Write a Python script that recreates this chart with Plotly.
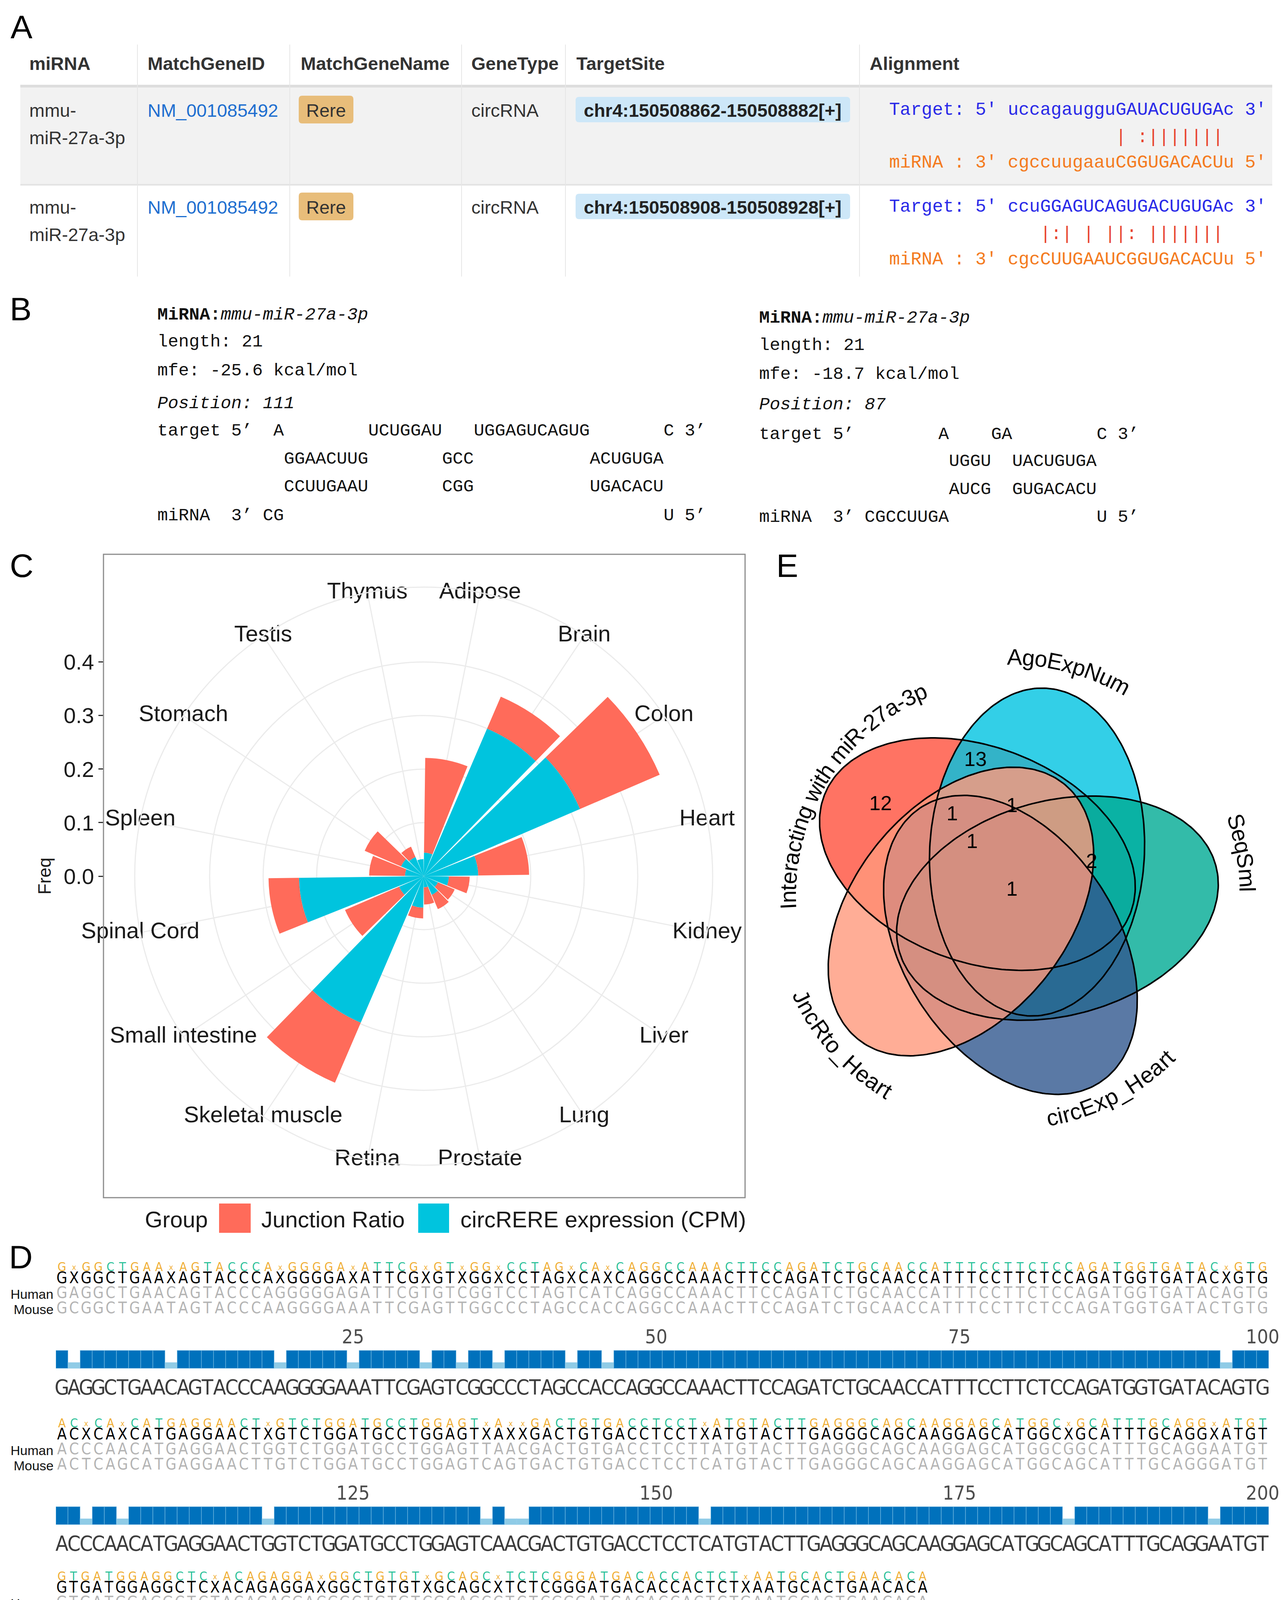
import numpy as np
import plotly.graph_objects as go

W, H = 3283, 4393
SANS = "Liberation Sans, Arial, sans-serif"
NARROW = "Liberation Sans Narrow, Arial Narrow, DejaVu Sans Condensed, Liberation Sans, sans-serif"
MONO = "Liberation Mono, Courier New, monospace"

# ---------------- A: miRNA / target table
headers = ["miRNA", "MatchGeneID", "MatchGeneName", "GeneType", "TargetSite", "Alignment"]
mirna = ["mmu-miR-27a-3p", "mmu-miR-27a-3p"]
gene_id = ["NM_001085492", "NM_001085492"]
gene_name = ["Rere", "Rere"]
gene_type = ["circRNA", "circRNA"]
target_site = ["chr4:150508862-150508882[+]", "chr4:150508908-150508928[+]"]
target_seq = ["uccagaugguGAUACUGUGAc", "ccuGGAGUCAGUGACUGUGAc"]
pair_marks = ["          | :|||||||", "   |:| | ||: |||||||"]
mirna_seq = ["cgccuugaauCGGUGACACUu", "cgcCUUGAAUCGGUGACACUu"]

# ---------------- B: RNAhybrid duplexes
hyb_mirna = ["mmu-miR-27a-3p", "mmu-miR-27a-3p"]
hyb_length = [21, 21]
hyb_mfe = [-25.6, -18.7]
hyb_position = [111, 87]
hyb_lines = [
    ["target 5’" + " " * 2 + "A" + " " * 8 + "UCUGGAU" + " " * 3 + "UGGAGUCAGUG" + " " * 7 + "C 3’",
     " " * 12 + "GGAACUUG" + " " * 7 + "GCC" + " " * 11 + "ACUGUGA",
     " " * 12 + "CCUUGAAU" + " " * 7 + "CGG" + " " * 11 + "UGACACU",
     "miRNA  3’ CG" + " " * 36 + "U 5’"],
    ["target 5’" + " " * 8 + "A" + " " * 4 + "GA" + " " * 8 + "C 3’",
     " " * 18 + "UGGU" + " " * 2 + "UACUGUGA",
     " " * 18 + "AUCG" + " " * 2 + "GUGACACU",
     "miRNA  3’ CGCCUUGA" + " " * 14 + "U 5’"],
]

# ---------------- C: tissue distribution
tissues = ["Adipose", "Brain", "Colon", "Heart", "Kidney", "Liver", "Lung", "Prostate",
           "Retina", "Skeletal muscle", "Small intestine", "Spinal Cord", "Spleen",
           "Stomach", "Testis", "Thymus"]
circ_cpm = [0.044, 0.300, 0.318, 0.102, 0.047, 0.029, 0.038, 0.021,
            0.059, 0.298, 0.050, 0.233, 0.035, 0.046, 0.039, 0.032]
junction_ratio = [0.177, 0.065, 0.162, 0.095, 0.039, 0.034, 0.029, 0.032,
                  0.020, 0.122, 0.110, 0.057, 0.067, 0.074, 0.021, 0.0]
freq_ticks = [0.0, 0.1, 0.2, 0.3, 0.4]
groups = ["Junction Ratio", "circRERE expression (CPM)"]

# ---------------- D: human / mouse alignment
d_human = [
    "GAGGCTGAACAGTACCCAGGGGGAGATTCGTGTCGGTCCTAGTCATCAGGCCAAACTTCCAGATCTGCAACCATTTCCTTCTCCAGATGGTGATACAGTG",
    "ACCCAACATGAGGAACTGGTCTGGATGCCTGGAGTTAACGACTGTGACCTCCTTATGTACTTGAGGGCAGCAAGGAGCATGGCGGCATTTGCAGGAATGT",
    "GTGATGGAGGCTCTACAGAGGACGGCTGTGTCGCAGCCTCTCGGGATGACACCACTCTGAATGCACTGAACACA",
]
d_mouse = [
    "GCGGCTGAATAGTACCCAAGGGGAAATTCGAGTTGGCCCTAGCCACCAGGCCAAACTTCCAGATCTGCAACCATTTCCTTCTCCAGATGGTGATACTGTG",
    "ACTCAGCATGAGGAACTTGTCTGGATGCCTGGAGTCAGTGACTGTGACCTCCTCATGTACTTGAGGGCAGCAAGGAGCATGGCAGCATTTGCAGGGATGT",
    "GTGATGGAGGCTCCACAGAGGATGGCTGTGTTGCAGCATCTCGGGATGACACCACTCTCAATGCACTGAACACA",
]
d_circ = [
    "GAGGCTGAACAGTACCCAAGGGGAAATTCGAGTCGGCCCTAGCCACCAGGCCAAACTTCCAGATCTGCAACCATTTCCTTCTCCAGATGGTGATACAGTG",
    "ACCCAACATGAGGAACTGGTCTGGATGCCTGGAGTCAACGACTGTGACCTCCTCATGTACTTGAGGGCAGCAAGGAGCATGGCAGCATTTGCAGGAATGT",
    "GTGATGGAGGCTCCACAGAGGACGGCTGTGTCGCAGCATCTCGGGATGACACCACTCTCAATGCACTGAACACA",
]
d_start = [1, 101, 201]
d_ticks = [[25, 50, 75, 100], [125, 150, 175, 200], [220, 240, 260]]

# ---------------- E: five-set Venn
venn_sets = ["Interacting with miR-27a-3p", "AgoExpNum", "SeqSml", "circExp_Heart", "JncRto_Heart"]
venn_colors = ["#FF503C", "#00C3E1", "#00AA94", "#31578F", "#FF997C"]
venn_counts = [12, 13, 1, 1, 1, 1, 2]

# ================= drawing helpers
shapes, anns = [], []


def nb(s):
    return s.replace(" ", "\u00a0")


def label(x, y, s, size, color="#333333", family=SANS, xa="left", ya="middle", angle=0):
    anns.append(dict(x=x, y=y, xref="x", yref="y", text=s, showarrow=False,
                     xanchor=xa, yanchor=ya, textangle=angle,
                     font=dict(family=family, size=size, color=color)))


def box(x0, y0, x1, y1, fill, line=None, lw=0, layer="below"):
    shapes.append(dict(type="rect", xref="x", yref="y", x0=x0, y0=y0, x1=x1, y1=y1,
                       fillcolor=fill, line=dict(color=line or fill, width=lw), layer=layer))


def rrect(x0, y0, x1, y1, r, fill):
    p = (f"M{x0+r},{y0} L{x1-r},{y0} Q{x1},{y0} {x1},{y0+r} L{x1},{y1-r} Q{x1},{y1} {x1-r},{y1} "
         f"L{x0+r},{y1} Q{x0},{y1} {x0},{y1-r} L{x0},{y0+r} Q{x0},{y0} {x0+r},{y0} Z")
    shapes.append(dict(type="path", xref="x", yref="y", path=p, fillcolor=fill,
                       line=dict(width=0), layer="below"))


# Arial advance widths (per 1000 em) for the curved Venn captions
ADV = {"I": 278, "n": 556, "t": 278, "e": 556, "r": 333, "a": 556, "c": 500, "i": 222,
       "g": 556, " ": 278, "w": 722, "h": 556, "m": 833, "R": 722, "-": 333, "2": 556,
       "7": 556, "3": 556, "p": 556, "A": 667, "o": 556, "E": 667, "x": 500, "N": 722,
       "u": 556, "S": 667, "q": 556, "l": 222, "H": 722, "_": 556, "J": 500}


def arc_text(s, cx, cy, rad, mid_deg, direction, size):
    widths = [ADV.get(ch, 556) * size / 1000 for ch in s]
    total = sum(widths)
    off = -total / 2
    for ch, w in zip(s, widths):
        a = mid_deg + direction * np.degrees((off + w / 2) / rad)
        off += w
        if ch == " ":
            continue
        ar = np.radians(a)
        ang = a + 90 if direction > 0 else a - 90
        ang = (ang + 180) % 360 - 180
        label(cx + rad * np.cos(ar), cy + rad * np.sin(ar), ch, size, "#000000",
              xa="center", angle=ang)


fig = go.Figure()

# ================= panel letters
for s, x, y in [("A", 47, 61), ("B", 45, 783), ("C", 47, 1440), ("D", 45, 3210), ("E", 2008, 1440)]:
    label(x, y, s, 84, "#000000", xa="center")

# ================= A
TBL_L, TBL_R = 44, 3250
HEAD_Y = 154
ROW_Y = [274, 522]
HEAD_X = [65, 368, 760, 1197, 1466, 2217]
ALIGN_X = 2267
box(TBL_L, 216, TBL_R, 463, "#F2F2F2")
box(TBL_L, 209, TBL_R, 216, "#DDDDDD")
box(TBL_L, 463, TBL_R, 467, "#E3E3E3")
for x in [344, 734, 1174, 1440, 2193]:
    shapes.append(dict(type="line", xref="x", yref="y", x0=x, x1=x, y0=106, y1=700,
                       line=dict(color="#E6E6E6", width=2), layer="below"))
for hx, h in zip(HEAD_X, headers):
    label(hx, HEAD_Y, f"<b>{h}</b>", 47, "#333333")
for i in range(len(mirna)):
    y = ROW_Y[i]
    head, tail = mirna[i].split("-", 1)
    label(65, y, head + "-", 47)
    label(65, y + 70, tail, 47)
    label(368, y, gene_id[i], 47, "#1F6FD0")
    rrect(757, y - 37, 897, y + 34, 9, "#E8BD7A")
    label(827, y, gene_name[i], 47, "#333333", xa="center")
    label(1197, y, gene_type[i], 47)
    rrect(1466, y - 34, 2169, y + 31, 9, "#CDE7F8")
    label(1817, y, f"<b>{target_site[i]}</b>", 47, "#222222", xa="center")
    label(ALIGN_X, y, nb("Target: 5' " + target_seq[i] + " 3'"), 46, "#2A2AE8", MONO)
    label(ALIGN_X, y + 70, nb(" " * 11 + pair_marks[i]), 46, "#E8432E", MONO)
    label(ALIGN_X, y + 135, nb("miRNA : 3' " + mirna_seq[i] + " 5'"), 46, "#F47B20", MONO)

# ================= B
B_X = [393, 1934]
B_Y = [[798, 867, 941, 1025, 1095, 1167, 1238, 1312],
       [806, 876, 950, 1028, 1104, 1173, 1245, 1316]]
for k in range(2):
    ys = B_Y[k]
    label(B_X[k], ys[0], f"<b>MiRNA:</b><i>{hyb_mirna[k]}</i>", 45, "#111111", MONO)
    label(B_X[k], ys[1], f"length: {hyb_length[k]}", 45, "#111111", MONO)
    label(B_X[k], ys[2], f"mfe: {hyb_mfe[k]} kcal/mol", 45, "#111111", MONO)
    label(B_X[k], ys[3], f"<i>Position: {hyb_position[k]}</i>", 45, "#111111", MONO)
    for j, line in enumerate(hyb_lines[k]):
        label(B_X[k], ys[4 + j], nb(line), 45, "#111111", MONO)

# ================= C: stacked polar bars
RED, CYAN = "#FF6B5A", "#00C4DE"
C_CX, C_CY, C_R, R_MAX = 1077, 2235, 740, 0.54
theta = [360 * (i + 0.5) / len(tissues) for i in range(len(tissues))]
fig.add_trace(go.Barpolar(r=circ_cpm, theta=theta, width=21, name=groups[1],
                          marker=dict(color=CYAN, line=dict(width=0)), subplot="polar"))
fig.add_trace(go.Barpolar(r=junction_ratio, theta=theta, width=21, name=groups[0],
                          marker=dict(color=RED, line=dict(width=0)), subplot="polar"))
fig.add_trace(go.Scatterpolar(r=[R_MAX] * len(tissues), theta=theta, mode="text", text=tissues,
                              textfont=dict(family=SANS, size=58, color="#1A1A1A"),
                              cliponaxis=False, subplot="polar"))
# radial scale shown as a left axis (like ggplot coord_polar)
fig.add_trace(go.Scatter(x=[0] * len(freq_ticks), y=freq_ticks, mode="markers",
                         marker=dict(opacity=0), xaxis="x2", yaxis="y2", hoverinfo="skip"))
box(257, 1411, 1900, 3058, "rgba(0,0,0,0)", "#8C8C8C", 3, layer="above")
label(106, C_CY, "Freq", 46, "#1A1A1A", xa="center", angle=-90)
# legend
label(361, 3113, "Group", 58, "#1A1A1A")
box(553, 3073, 634, 3148, RED)
label(659, 3113, groups[0], 58, "#1A1A1A")
box(1063, 3073, 1142, 3148, CYAN)
label(1169, 3113, groups[1], 58, "#1A1A1A")

# ================= E: Venn ellipses (five-fold arrangement)
V_CX, V_CY, V_D, V_PHI0, V_DELTA, V_A, V_B = 2575, 2281, 130, 232.0, -31.0, 420, 275
t = np.linspace(0, 2 * np.pi, 240)
outlines = []
for i, col in enumerate(venn_colors):
    phi = np.radians(V_PHI0 + 72 * i)
    cx, cy = V_CX + V_D * np.cos(phi), V_CY + V_D * np.sin(phi)
    th = phi + np.radians(V_DELTA)
    ex = cx + V_A * np.cos(t) * np.cos(th) - V_B * np.sin(t) * np.sin(th)
    ey = cy + V_A * np.cos(t) * np.sin(th) + V_B * np.sin(t) * np.cos(th)
    r, g, b = (int(col[j:j + 2], 16) for j in (1, 3, 5))
    fig.add_trace(go.Scatter(x=ex, y=ey, mode="lines", fill="toself", line=dict(width=0),
                             fillcolor=f"rgba({r},{g},{b},0.8)", xaxis="x", yaxis="y",
                             hoverinfo="skip"))
    outlines.append((ex, ey))
for ex, ey in outlines:
    fig.add_trace(go.Scatter(x=ex, y=ey, mode="lines", line=dict(color="#000000", width=4),
                             xaxis="x", yaxis="y", hoverinfo="skip"))
# captions follow arcs around the diagram: (radius, middle angle, reading direction)
venn_label_arc = [(565, 212, 1), (608, 285, 1), (612, 350, 1), (582, 62.5, -1), (592, 138, -1)]
for name, (rad, mid, dr) in zip(venn_sets, venn_label_arc):
    arc_text(name, V_CX, V_CY, rad, mid, dr, 58)
count_pos = [(2247, 2048), (2490, 1935), (2430, 2074), (2583, 2053),
             (2481, 2145), (2583, 2267), (2787, 2196)]
for n, (x, y) in zip(venn_counts, count_pos):
    label(x, y, str(n), 52, "#000000", xa="center")

# ================= D: alignment blocks
GOLD, TEAL = "#F0AE33", "#2DC29A"
DARK, LIGHT = "#0071BC", "#8FCBE6"
D_X0 = 135
D_PX = [31.06, 31.06, 30.2]
D_Y0 = [3200, 3600, 3992]
d_axes = {}
for k in range(3):
    hs, ms, cs = d_human[k], d_mouse[k], d_circ[k]
    n = len(hs)
    pos = list(range(d_start[k], d_start[k] + n))
    cons = [a if a == b else "X" for a, b in zip(hs, ms)]
    xa = f"x{k + 3}"
    y0 = D_Y0[k]
    d_axes[f"xaxis{k + 3}"] = dict(domain=[D_X0 / W, (D_X0 + n * D_PX[k]) / W],
                                   range=[d_start[k] - 0.5, d_start[k] + n - 0.5],
                                   anchor="y", visible=False)
    fig.add_trace(go.Scatter(
        x=pos, y=[y0 + 38] * n, mode="text", text=[c if c != "X" else "x" for c in cons],
        textfont=dict(family=NARROW, size=[32 if c != "X" else 20 for c in cons],
                      color=[GOLD if c in "AGX" else TEAL for c in cons]),
        xaxis=xa, yaxis="y", cliponaxis=False, hoverinfo="skip"))
    fig.add_trace(go.Scatter(x=pos, y=[y0 + 67] * n, mode="text", text=cons,
                             textfont=dict(family=NARROW, size=40, color="#000000"),
                             xaxis=xa, yaxis="y", cliponaxis=False, hoverinfo="skip"))
    for seq, dy in [(hs, 105), (ms, 144)]:
        fig.add_trace(go.Scatter(x=pos, y=[y0 + dy] * n, mode="text", text=list(seq),
                                 textfont=dict(family=NARROW, size=40, color="#B4B4B4"),
                                 xaxis=xa, yaxis="y", cliponaxis=False, hoverinfo="skip"))
    label(131, y0 + 105, "Human", 34, "#111111", xa="right")
    label(131, y0 + 144, "Mouse", 34, "#111111", xa="right")
    fig.add_trace(go.Scatter(x=d_ticks[k], y=[y0 + 218] * len(d_ticks[k]), mode="text",
                             text=[str(v) for v in d_ticks[k]],
                             textfont=dict(family=NARROW, size=50, color="#4D4D4D"),
                             xaxis=xa, yaxis="y", cliponaxis=False, hoverinfo="skip"))
    fig.add_trace(go.Bar(x=pos, y=[-46 if c != "X" else -15 for c in cons], base=y0 + 295,
                         width=1, xaxis=xa, yaxis="y", hoverinfo="skip",
                         marker=dict(color=[DARK if c != "X" else LIGHT for c in cons],
                                     line=dict(color="rgba(150,205,235,0.55)", width=1.5))))
    fig.add_trace(go.Scatter(x=pos, y=[y0 + 348] * n, mode="text", text=list(cs),
                             textfont=dict(family=NARROW, size=54, color="#3C3C3C"),
                             xaxis=xa, yaxis="y", cliponaxis=False, hoverinfo="skip"))

# ================= layout
fig.update_layout(
    width=W, height=H, autosize=False, margin=dict(l=0, r=0, t=0, b=0),
    paper_bgcolor="white", plot_bgcolor="rgba(0,0,0,0)", showlegend=False, hovermode=False,
    xaxis=dict(domain=[0, 1], range=[0, W], visible=False, anchor="y"),
    yaxis=dict(domain=[0, 1], range=[H, 0], visible=False, anchor="x"),
    xaxis2=dict(domain=[257 / W, 300 / W], range=[0, 1], visible=False, anchor="y2"),
    yaxis2=dict(domain=[1 - (C_CY + C_R) / H, 1 - (C_CY - C_R) / H], range=[-R_MAX, R_MAX],
                anchor="free", position=257 / W, tickvals=freq_ticks,
                ticktext=[f"{v:.1f}" for v in freq_ticks], ticks="outside", ticklen=13,
                tickwidth=3, tickcolor="#333333", showgrid=False, zeroline=False,
                showline=False, tickfont=dict(family=SANS, size=56, color="#1A1A1A")),
    polar=dict(
        domain=dict(x=[(C_CX - C_R) / W, (C_CX + C_R) / W],
                    y=[1 - (C_CY + C_R) / H, 1 - (C_CY - C_R) / H]),
        bgcolor="white", barmode="stack",
        radialaxis=dict(range=[0, R_MAX], tickvals=freq_ticks[1:], showticklabels=False,
                        ticks="", showline=False, gridcolor="#EBEBEB", gridwidth=3),
        angularaxis=dict(rotation=90, direction="clockwise", tickvals=theta,
                         showticklabels=False, ticks="", gridcolor="#EBEBEB", gridwidth=3,
                         showline=True, linecolor="#EBEBEB", linewidth=3),
    ),
    shapes=shapes, annotations=anns,
)
fig.update_layout(**d_axes)

fig.write_html("out.html")
